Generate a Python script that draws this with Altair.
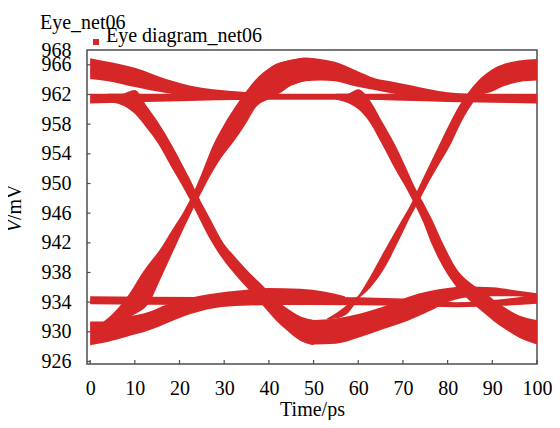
import altair as alt
import pandas as pd

RED = "#d62728"
SERIES = "Eye diagram_net06"
FONT = "Liberation Serif"

X_TICKS = [0, 10, 20, 30, 40, 50, 60, 70, 80, 90, 100]
Y_TICKS = [926, 930, 934, 938, 942, 946, 950, 954, 958, 962, 966, 968]

# --- bands of the eye diagram (time in ps, upper / lower edge in mV) ---
PEAK_L_X = [0, 5, 10, 17, 24, 31, 38]
PEAK_L_HI = [966.9, 966.3, 965.6, 964.1, 963.0, 962.5, 962.2]
PEAK_L_LO = [964.1, 963.7, 963.0, 962.2, 961.6, 961.3, 961.5]

HIFLAT_X = [0, 20, 40, 60, 80, 100]
HIFLAT_HI = [962.1, 962.1, 962.1, 962.1, 962.1, 962.1]
HIFLAT_LO = [960.8, 961.1, 961.3, 961.3, 961.0, 960.8]

FALL1_X = [4, 7, 10, 12.5, 15.3, 18.2, 20.6, 22.5, 24, 26.9, 29.9, 32.6, 35.6, 38, 41.5, 44, 47, 50]
FALL1_HI = [962.1, 962.1, 962.6, 960.6, 958.2, 955.3, 952.6, 950.4, 948.5, 945.2, 941.9, 940.0,
            938.0, 936.6, 934.4, 933.2, 932.1, 931.6]
FALL1_LO = [961.0, 960.6, 959.4, 957.6, 955.3, 952.2, 949.7, 947.6, 945.8, 942.4, 939.6, 937.6,
            935.6, 934.0, 931.6, 930.2, 928.8, 928.2]

REC1_X = [0, 3.6, 8, 13.2, 16.9, 20.6, 28, 33.9, 40, 47, 52.6, 57]
REC1_HI = [931.4, 931.4, 932.0, 932.7, 933.6, 934.3, 935.2, 935.6, 935.9, 935.8, 935.4, 934.8]
REC1_LO = [928.2, 928.6, 929.3, 930.2, 931.1, 932.0, 933.2, 933.5, 933.6, 933.7, 933.8, 933.8]

RISE1_X = [3, 5, 7, 9.5, 11, 13.2, 15.5, 18.4, 21, 23, 24.5, 27.6, 30, 32.3, 35, 37, 40, 42.2, 45, 48]
RISE1_HI = [931.4, 932.4, 933.7, 935.8, 937.3, 939.2, 941.0, 943.8, 946.3, 948.6, 950.7, 955.3,
            958.0, 960.2, 962.5, 964.0, 965.5, 966.2, 966.7, 966.9]
RISE1_LO = [931.2, 931.3, 931.6, 932.2, 932.7, 933.9, 936.8, 940.6, 944.0, 946.5, 948.3, 951.8,
            954.0, 955.8, 958.2, 960.2, 961.4, 962.1, 963.2, 963.8]

LOFLAT_X = [0, 25, 50, 70, 82, 92, 100]
LOFLAT_HI = [934.8, 934.7, 934.7, 934.5, 934.0, 934.4, 935.0]
LOFLAT_LO = [933.7, 933.6, 933.6, 933.5, 933.3, 933.5, 933.8]

PEAK_M_X = [38, 41.5, 45, 48.2, 51.5, 54.8, 59.3, 63.7, 68, 72, 76, 80, 85]
PEAK_M_HI = [964.5, 966.1, 966.7, 967.0, 966.8, 966.4, 965.3, 964.2, 963.7, 963.2, 962.7, 962.3, 962.1]
PEAK_M_LO = [962.0, 962.0, 963.2, 963.8, 963.9, 963.8, 963.1, 962.6, 962.1, 961.7, 961.5, 961.3, 961.2]

FALL2_X = [55, 57.5, 60, 62.5, 65.3, 68.2, 70.5, 72.6, 74.5, 76.3, 79.3, 82, 85.3, 88, 90.4, 93, 96, 100]
FALL2_HI = [962.1, 962.1, 962.7, 961.3, 958.4, 955.3, 952.4, 949.6, 947.5, 945.4, 941.5, 938.5,
            936.5, 935.4, 934.3, 933.2, 932.2, 931.6]
FALL2_LO = [961.3, 960.9, 960.0, 958.3, 955.3, 952.0, 949.6, 947.2, 944.8, 942.0, 938.4, 936.0,
            934.0, 932.6, 931.4, 930.3, 929.2, 928.3]

REC2_X = [47, 50, 55, 60, 63, 67.4, 71.1, 76, 80, 83.7, 90, 95, 100]
REC2_HI = [931.9, 931.6, 931.8, 932.4, 932.9, 933.8, 934.7, 935.5, 935.9, 936.1, 936.0, 935.6, 935.2]
REC2_LO = [928.9, 928.3, 928.4, 929.2, 929.8, 930.7, 931.5, 932.8, 934.0, 934.6, 934.8, 934.8, 934.5]

RISE2_X = [53, 55, 57.5, 60, 62.5, 65.9, 69, 72.0, 73.3, 76, 78.5, 80.7, 82.5, 84.5, 86.7, 90, 93, 96, 100]
RISE2_HI = [931.8, 932.5, 933.6, 934.9, 937.3, 941.0, 944.3, 947.5, 949.2, 952.6, 955.7, 958.4,
            960.4, 962.2, 963.8, 965.4, 966.2, 966.6, 966.8]
RISE2_LO = [931.7, 931.8, 932.4, 934.4, 935.8, 938.6, 942.2, 945.9, 947.3, 950.4, 953.0, 955.3,
            957.6, 959.8, 961.6, 962.4, 963.2, 963.7, 963.9]

BANDS = [
    ("peak_left", PEAK_L_X, PEAK_L_HI, PEAK_L_LO),
    ("high_flat", HIFLAT_X, HIFLAT_HI, HIFLAT_LO),
    ("fall_1", FALL1_X, FALL1_HI, FALL1_LO),
    ("recover_1", REC1_X, REC1_HI, REC1_LO),
    ("rise_1", RISE1_X, RISE1_HI, RISE1_LO),
    ("low_flat", LOFLAT_X, LOFLAT_HI, LOFLAT_LO),
    ("peak_mid", PEAK_M_X, PEAK_M_HI, PEAK_M_LO),
    ("fall_2", FALL2_X, FALL2_HI, FALL2_LO),
    ("recover_2", REC2_X, REC2_HI, REC2_LO),
    ("rise_2", RISE2_X, RISE2_HI, RISE2_LO),
]

rows = []
for name, xs, his, los in BANDS:
    for xv, h, l in zip(xs, his, los):
        rows.append({"band": name, "series": SERIES, "t": xv, "hi": h, "lo": l})
df = pd.DataFrame(rows)

X_DOMAIN = [-0.7, 100]
Y_DOMAIN = [925.66, 968]
W, H = 450, 314
GRAY = "#4d4d4d"

xscale = alt.Scale(domain=X_DOMAIN, nice=False, zero=False)
yscale = alt.Scale(domain=Y_DOMAIN, nice=False, zero=False)

XAXIS = alt.Axis(values=X_TICKS, tickSize=0, labelPadding=14, domain=False, grid=False,
                 labelFlush=False, labelOverlap=False, title="Time/ps", titlePadding=1,
                 labelFont=FONT, labelFontSize=20, labelColor="black",
                 titleFont=FONT, titleFontSize=20, titleFontWeight="normal", titleColor="black")
YAXIS = alt.Axis(values=Y_TICKS, tickSize=0, labelPadding=16, domain=False, grid=False,
                 labelOverlap=False, title=None,
                 labelFont=FONT, labelFontSize=20, labelColor="black")

bands = alt.Chart(df).mark_area(interpolate="monotone", opacity=1).encode(
    x=alt.X("t:Q", scale=xscale, axis=XAXIS),
    y=alt.Y("hi:Q", scale=yscale, stack=False, axis=YAXIS),
    y2="lo:Q",
    detail="band:N",
    color=alt.Color("series:N", scale=alt.Scale(domain=[SERIES], range=[RED]),
                    legend=alt.Legend(title=None, orient="none", legendX=-1, legendY=-18,
                                      symbolType="square", symbolSize=36, symbolStrokeWidth=0,
                                      labelFont=FONT, labelFontSize=20, labelColor="black",
                                      labelBaseline="alphabetic", labelOffset=0, padding=0,
                                      symbolOpacity=1)),
)

xt = alt.Chart(pd.DataFrame({"v": X_TICKS})).mark_rule(color=GRAY, strokeWidth=1.2).encode(
    x=alt.X("v:Q", scale=xscale, axis=XAXIS), y=alt.value(H), y2=alt.value(H - 4))
yt = alt.Chart(pd.DataFrame({"v": Y_TICKS[:-1]})).mark_rule(color=GRAY, strokeWidth=1.2).encode(
    y=alt.Y("v:Q", scale=yscale, axis=YAXIS), x=alt.value(0), x2=alt.value(3.5))

ytitle_v = alt.Chart(pd.DataFrame({"s": ["V"]})).mark_text(
    angle=270, align="right", baseline="middle", font=FONT, fontSize=20,
    fontStyle="italic", color="black").encode(text="s:N", x=alt.value(-72), y=alt.value(170))
ytitle_u = alt.Chart(pd.DataFrame({"s": ["/mV"]})).mark_text(
    angle=270, align="left", baseline="middle", font=FONT, fontSize=20,
    color="black").encode(text="s:N", x=alt.value(-72), y=alt.value(170))

chart = alt.layer(bands, xt, yt, ytitle_v, ytitle_u).properties(
    width=W, height=H,
    autosize=alt.AutoSizeParams(type="none"),
    padding={"left": 79, "top": 42, "right": 15, "bottom": 56},
    background="white",
    title=alt.Title("Eye_net06", anchor="start", frame="group", dx=-47, dy=2, offset=1,
                    fontSize=20, font=FONT, fontWeight="normal", color="black"),
).configure_view(stroke=GRAY, strokeWidth=1.5)

chart.save("out.html", embed_options={"renderer": "svg", "actions": False})
